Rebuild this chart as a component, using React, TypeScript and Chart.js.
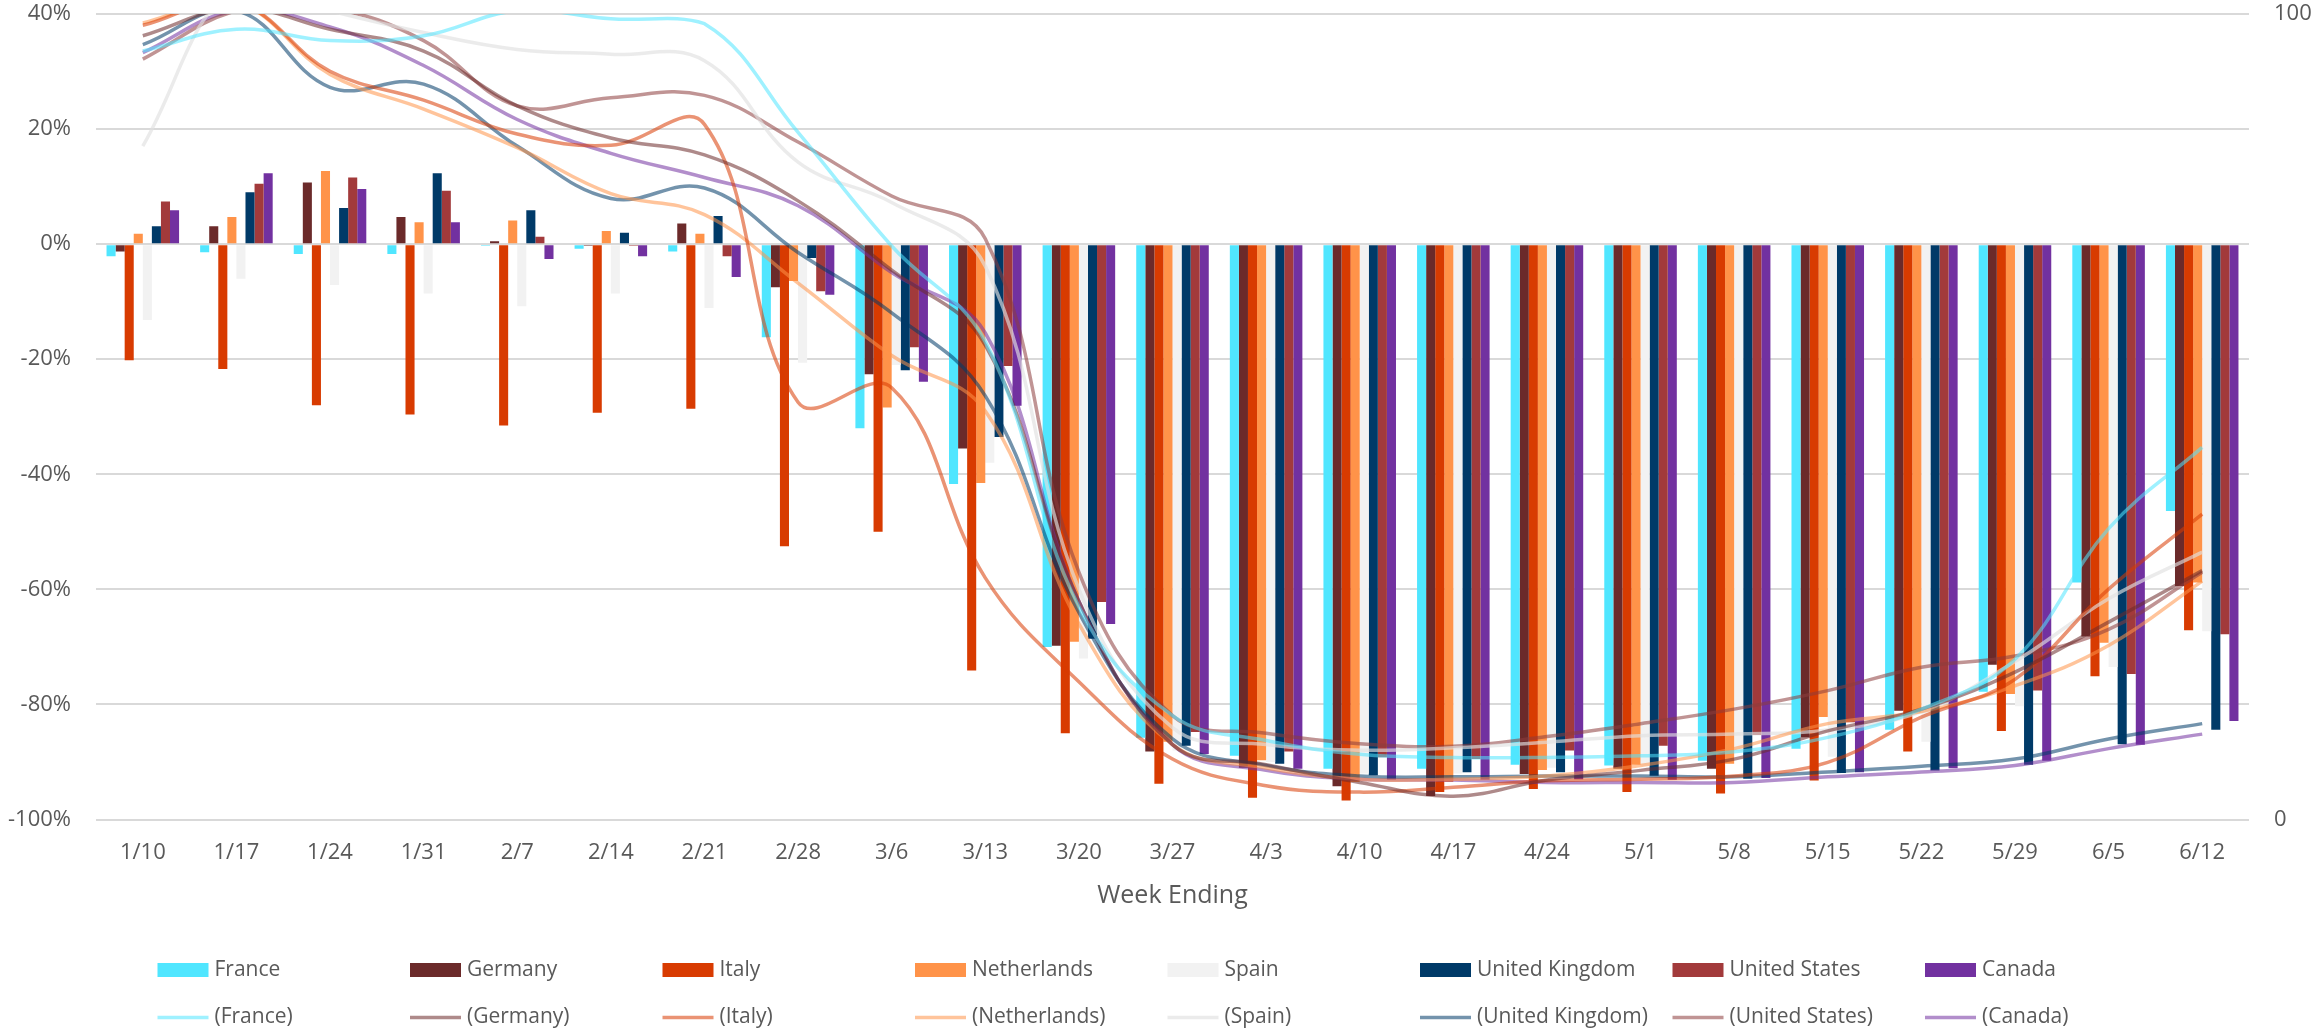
import React, { useEffect, useRef } from 'react';
import { Chart, registerables } from 'chart.js';

Chart.register(...registerables);

// ---------- data ----------
const weeks = ['1/10', '1/17', '1/24', '1/31', '2/7', '2/14', '2/21', '2/28', '3/6', '3/13', '3/20', '3/27', '4/3', '4/10', '4/17', '4/24', '5/1', '5/8', '5/15', '5/22', '5/29', '6/5', '6/12'];

const countries = ['France', 'Germany', 'Italy', 'Netherlands', 'Spain', 'United Kingdom', 'United States', 'Canada'];

// weekly change (%), left axis
const franceBars = [-2.1, -1.4, -1.7, -1.7, -0.3, -0.8, -1.3, -16.2, -32.0, -41.7, -70.0, -85.8, -88.9, -91.2, -91.2, -90.5, -90.6, -89.8, -87.7, -84.4, -77.8, -58.8, -46.4];
const germanyBars = [-1.3, 3.1, 10.7, 4.7, 0.5, -0.3, 3.6, -7.5, -22.6, -35.5, -69.8, -88.2, -91.0, -94.2, -95.9, -92.1, -91.2, -91.2, -85.7, -81.1, -73.1, -68.2, -59.4];
const italyBars = [-20.2, -21.7, -28.0, -29.6, -31.5, -29.3, -28.6, -52.5, -50.0, -74.1, -85.0, -93.8, -96.2, -96.7, -95.2, -94.7, -95.2, -95.5, -93.2, -88.2, -84.6, -75.1, -67.1];
const netherlandsBars = [1.8, 4.7, 12.7, 3.8, 4.1, 2.3, 1.8, -6.4, -28.4, -41.5, -69.1, -86.5, -89.7, -93.5, -93.5, -91.4, -90.5, -90.3, -82.2, -81.4, -78.2, -69.3, -58.8];
const spainBars = [-13.2, -6.0, -7.1, -8.6, -10.8, -8.6, -11.1, -20.6, -21.0, -38.0, -72.0, -88.0, -90.0, -92.0, -92.0, -91.0, -90.6, -88.0, -89.1, -86.5, -80.3, -73.5, -67.3];
const ukBars = [3.1, 9.0, 6.3, 12.3, 5.9, 2.0, 4.9, -2.4, -21.9, -33.5, -68.6, -87.2, -90.3, -92.3, -91.8, -91.8, -92.4, -92.9, -91.9, -91.5, -90.5, -86.9, -84.4];
const usBars = [7.4, 10.5, 11.6, 9.3, 1.3, -0.3, -2.1, -8.2, -17.9, -21.2, -62.2, -84.8, -88.2, -89.2, -89.5, -88.0, -87.2, -85.3, -83.1, -79.6, -77.6, -74.7, -67.8];
const canadaBars = [5.9, 12.3, 9.6, 3.8, -2.6, -2.1, -5.7, -8.8, -23.9, -28.1, -66.0, -88.6, -91.2, -93.1, -93.1, -93.0, -93.1, -92.8, -91.8, -91.1, -89.8, -87.0, -82.9];

// index values, right axis (0-100)
const franceLine = [95.4, 98.1, 96.7, 97.3, 100.4, 99.4, 98.8, 85.3, 71.2, 59.3, 26.4, 12.9, 9.8, 8.1, 7.7, 7.7, 7.9, 8.4, 10.2, 13.7, 19.9, 36.1, 46.2];
const germanyLine = [97.3, 100.7, 98.1, 95.4, 88.6, 84.6, 82.5, 76.8, 68.2, 58.9, 27.1, 9.3, 6.8, 4.6, 2.9, 4.9, 6.1, 7.5, 11.0, 13.7, 18.3, 24.5, 30.9];
const italyLine = [98.6, 101.4, 92.9, 89.3, 85.1, 83.7, 86.3, 51.8, 53.6, 30.0, 17.1, 7.5, 4.2, 3.4, 4.0, 4.8, 5.0, 5.4, 7.1, 12.7, 17.4, 28.6, 37.9];
const netherlandsLine = [98.9, 101.4, 92.5, 88.2, 83.4, 77.7, 75.1, 66.6, 57.6, 50.7, 24.3, 9.3, 6.4, 5.0, 5.0, 5.4, 6.7, 8.8, 11.9, 13.4, 16.6, 21.6, 29.6];
const spainLine = [83.6, 103.6, 100.4, 97.7, 95.6, 95.0, 94.2, 81.6, 76.6, 68.7, 28.6, 11.4, 9.3, 8.6, 8.9, 9.6, 10.4, 10.6, 11.1, 13.4, 19.6, 27.4, 33.2];
const ukLine = [96.2, 100.4, 90.9, 91.3, 83.6, 77.1, 78.4, 70.4, 62.9, 52.6, 25.7, 10.0, 6.7, 5.4, 5.3, 5.4, 5.4, 5.3, 5.9, 6.6, 7.5, 10.0, 11.9];
const usLine = [94.4, 100.4, 100.7, 96.7, 88.6, 89.6, 89.9, 84.1, 77.4, 72.1, 30.7, 12.9, 10.7, 9.4, 9.1, 10.3, 11.9, 13.7, 16.0, 18.9, 20.3, 23.6, 30.7];
const canadaLine = [95.2, 100.4, 98.4, 93.6, 86.9, 82.7, 79.7, 76.2, 67.9, 60.4, 27.1, 9.3, 6.1, 5.0, 4.9, 4.6, 4.6, 4.6, 5.3, 5.9, 6.7, 8.8, 10.6];

const leftTicks = [-100, -80, -60, -40, -20, 0, 20, 40];
const rightTicks = [0, 100];

// ---------- styles ----------
const barColors = ['#50E6FF', '#6B2A2A', '#D83B01', '#FF9349', '#F2F2F2', '#003A68', '#A23A3B', '#7231A0'];
const lineColors = [
  'rgba(80,230,255,0.55)',
  'rgba(107,42,42,0.55)',
  'rgba(216,59,1,0.55)',
  'rgba(255,147,73,0.55)',
  'rgba(225,225,225,0.65)',
  'rgba(0,58,104,0.55)',
  'rgba(140,60,60,0.55)',
  'rgba(114,49,160,0.55)',
];

const barSeries = [franceBars, germanyBars, italyBars, netherlandsBars, spainBars, ukBars, usBars, canadaBars];
const lineSeries = [franceLine, germanyLine, italyLine, netherlandsLine, spainLine, ukLine, usLine, canadaLine];

const FONT = "'Open Sans', 'Noto Sans', sans-serif";
const TEXT = '#595959';
const W = 2315;
const H = 1031;

const legendPlugin = {
  id: 'gridLegend',
  afterDraw(chart: any) {
    const ctx = chart.ctx as CanvasRenderingContext2D;
    const x0 = 157.5;
    const dx = 252.5;
    const sw = 51;
    const row1 = 970;
    const row2 = 1017.5;
    ctx.save();
    ctx.font = `21px ${FONT}`;
    ctx.textBaseline = 'middle';
    ctx.textAlign = 'left';
    countries.forEach((name, i) => {
      const x = x0 + i * dx;
      ctx.fillStyle = barColors[i];
      ctx.fillRect(x, row1 - 7, sw, 14);
      ctx.fillStyle = TEXT;
      ctx.fillText(name, x + 57, row1);
      ctx.strokeStyle = lineColors[i];
      ctx.lineWidth = 3.5;
      ctx.beginPath();
      ctx.moveTo(x, row2);
      ctx.lineTo(x + sw, row2);
      ctx.stroke();
      ctx.fillStyle = TEXT;
      ctx.fillText(`(${name})`, x + 57, row2);
    });
    ctx.restore();
  },
};

export default function App() {
  const ref = useRef<HTMLCanvasElement | null>(null);

  useEffect(() => {
    if (!ref.current) return;
    const datasets: any[] = [];
    countries.forEach((name, i) => {
      datasets.push({
        type: 'line',
        label: `(${name})`,
        data: lineSeries[i],
        yAxisID: 'y1',
        borderColor: lineColors[i],
        backgroundColor: lineColors[i],
        borderWidth: 3.5,
        pointRadius: 0,
        tension: 0.4,
        fill: false,
        clip: 0,
        order: 0,
      });
    });
    countries.forEach((name, i) => {
      datasets.push({
        type: 'bar',
        label: name,
        data: barSeries[i],
        yAxisID: 'y',
        backgroundColor: barColors[i],
        borderWidth: 0,
        barPercentage: 1,
        categoryPercentage: 0.775,
        order: 1,
      });
    });

    const vFit = (width: number) => (s: any) => {
      s.width = width;
      s.paddingTop = 12;
      s.paddingBottom = 12;
    };

    const chart = new Chart(ref.current, {
      type: 'bar',
      data: { labels: weeks, datasets },
      plugins: [legendPlugin],
      options: {
        responsive: false,
        animation: false,
        devicePixelRatio: 1,
        layout: { padding: { top: 14, bottom: 120, left: 0, right: 0 } },
        plugins: { legend: { display: false }, tooltip: { enabled: false } },
        scales: {
          x: {
            grid: { display: false, drawTicks: false },
            border: { display: false },
            ticks: { color: TEXT, font: { family: FONT, size: 22 }, padding: 20, autoSkip: false, maxRotation: 0 },
            title: { display: true, text: 'Week Ending', color: TEXT, font: { family: FONT, size: 25 }, padding: { top: 0, bottom: 0 } },
            afterFit: (s: any) => { s.height = 91.5; },
          },
          y: {
            position: 'left',
            min: -100,
            max: 40,
            grid: { color: '#D9D9D9', lineWidth: 2, drawTicks: false },
            border: { display: false },
            afterBuildTicks: (s: any) => { s.ticks = leftTicks.map((v) => ({ value: v })); },
            ticks: { color: TEXT, font: { family: FONT, size: 22 }, padding: 25, callback: (v: any) => `${v}%` },
            afterFit: vFit(96),
          },
          y1: {
            position: 'right',
            min: 0,
            max: 100,
            grid: { display: false, drawTicks: false },
            border: { display: false },
            afterBuildTicks: (s: any) => { s.ticks = rightTicks.map((v) => ({ value: v })); },
            ticks: { color: TEXT, font: { family: FONT, size: 22 }, padding: 25 },
            afterFit: vFit(66),
          },
        },
      } as any,
    } as any);
    return () => chart.destroy();
  }, []);

  return (
    <div style={{ position: 'absolute', left: 0, top: 0, width: W, height: H, background: '#ffffff' }}>
      <canvas ref={ref} width={W} height={H} style={{ display: 'block', width: W, height: H }} />
    </div>
  );
}
